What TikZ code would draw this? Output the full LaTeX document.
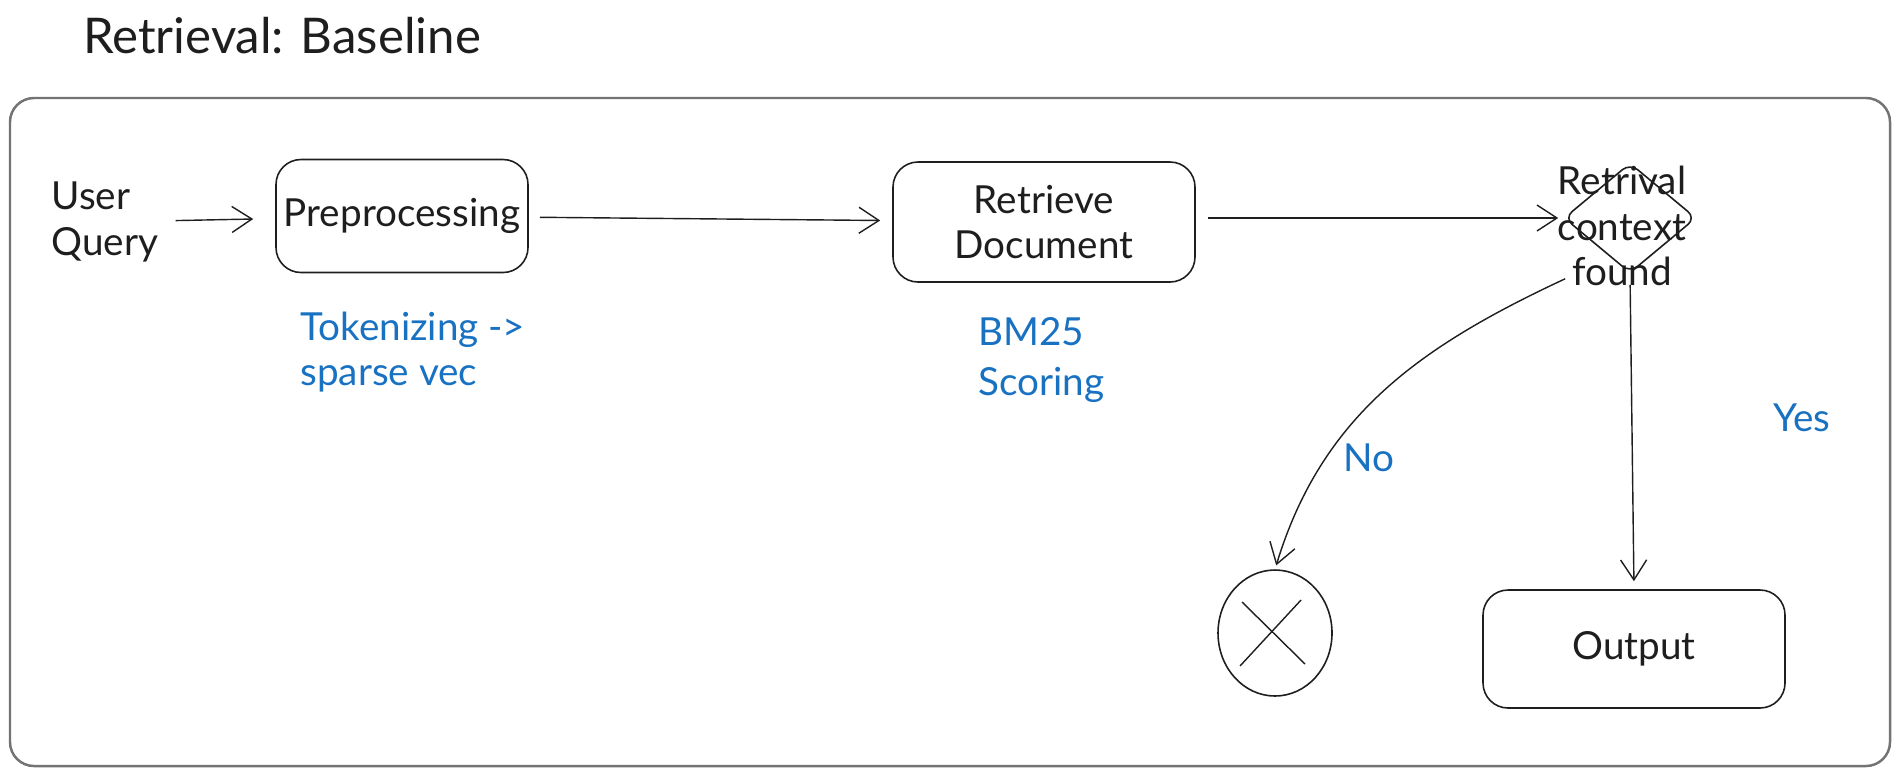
\documentclass[tikz,border=0pt]{standalone}
\usepackage{fontspec}
\setmainfont{Lato}
\usetikzlibrary{arrows.meta, shapes.geometric}

\definecolor{ink}{HTML}{1E1E1E}
\definecolor{pen}{HTML}{1971C2}

\begin{document}
\begin{tikzpicture}[> = {Straight Barb[length = 2mm, width = 2.6mm]}, font = \fontsize{11}{13}\selectfont, text = ink,
	procbox/.style = {draw = ink, rounded corners = 2.5mm, line width = 0.45pt, inner sep = 0},
	bluenote/.style = {text = pen, align = left, anchor = west},
	flowline/.style = {->, draw = ink, line width = 0.4pt}]

	% Canvas and frame
	
	\useasboundingbox (0, 0) rectangle (19, -7.76);
	
	\node (title) at (2.82, -0.36) {\fontsize{14}{16}\selectfont Retrieval: Baseline};
	
	\draw [black!55, line width = 0.7pt, rounded corners = 2.4mm] (0.10, -0.98) rectangle (18.90, -7.66);
	
	% Top row
	
	\node [align = left] (user) at (1.05, -2.22) {User\\Query};
	\node [procbox, minimum width = 2.52cm, minimum height = 1.13cm] (pre) at (4.02, -2.16) {Preprocessing};
	\node [procbox, minimum width = 3.02cm, minimum height = 1.20cm, align = center] (ret) at (10.44, -2.22) {Retrieve\\Document};
	\node [draw = ink, diamond, rounded corners = 1mm, line width = 0.45pt, minimum width = 1.32cm, minimum height = 1.10cm, inner sep = 0] (dec) at (16.30, -2.18) {};
	\node [align = center, inner sep = 0] (dectxt) at (16.22, -2.26) {Retrival\\context\\found};
	
	% Bottom row
	
	\node [draw = ink, ellipse, line width = 0.45pt, minimum width = 1.14cm, minimum height = 1.26cm] (stop) at (12.75, -6.33) {};
	\draw [ink, line width = 0.4pt] ([shift = {(-0.33, 0.31)}] stop.center) -- ([shift = {(0.30, -0.31)}] stop.center);
	\draw [ink, line width = 0.4pt] ([shift = {(0.26, 0.33)}] stop.center) -- ([shift = {(-0.35, -0.33)}] stop.center);
	
	\node [procbox, minimum width = 3.02cm, minimum height = 1.18cm] (out) at (16.34, -6.49) {Output};
	
	% Blue notes
	
	\node [bluenote] (tok) at (2.88, -3.52) {Tokenizing ->\\sparse vec};
	\node [bluenote, font = \fontsize{11}{14.5}\selectfont] (bm) at (9.66, -3.60) {BM25\\Scoring};
	\node [text = pen] (no) at (13.69, -4.58) {No};
	\node [text = pen] (yes) at (18.02, -4.18) {Yes};
	
	% Connectors
	
	\draw [flowline, shorten < = 0.5mm, shorten > = 2.2mm] (user) -- (pre);
	\draw [flowline, shorten < = 1.1mm, shorten > = 1.2mm] (pre) -- (ret);
	\draw [flowline, shorten < = 1.2mm, shorten > = 0.5mm] (ret.east |- dec.west) -- (dec.west);
	\draw [flowline, shorten < = 1.1mm, shorten > = 0.8mm] (dec.south) -- (out.north);
	\draw [flowline, shorten > = 0.4mm] ([shift = {(0.8mm, 0.8mm)}] dectxt.south west) to [out = 205, in = 73] (stop.north);

\end{tikzpicture}
\end{document}
